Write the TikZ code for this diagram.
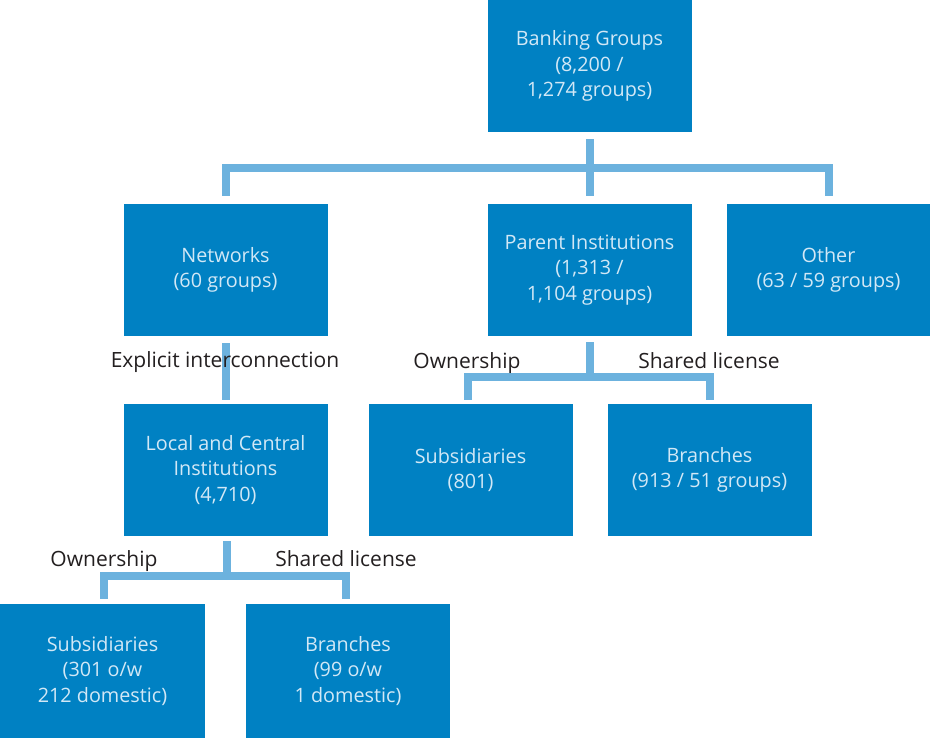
\documentclass[tikz,border=0pt]{standalone}
\usepackage{fontspec}
\setmainfont{Open Sans}
\definecolor{boxblue}{HTML}{0081C3}
\definecolor{linkblue}{HTML}{6CB2DE}
\definecolor{boxtext}{HTML}{D2E8F6}
\definecolor{labelgray}{HTML}{231F20}
\begin{document}
\begin{tikzpicture}[x=1pt,y=-1pt,
  box/.style={fill=boxblue, draw=none, minimum width=204pt, minimum height=132pt, inner sep=0pt, align=center, text=boxtext, font=\fontsize{19.8}{25.5}\selectfont},
  conn/.style={draw=linkblue, line width=8pt},
  lbl/.style={text=labelgray, font=\fontsize{21}{24}\selectfont, inner sep=0pt, anchor=base}]
\useasboundingbox (0,0) rectangle (930,738);
% boxes
\node[box] (bg) at (589.5,66) {Banking Groups\\(8,200 /\\1,274 groups)};
\node[box] (net) at (225.5,270) {Networks\\(60 groups)};
\node[box] (par) at (589.5,270) {Parent Institutions\\(1,313 /\\1,104 groups)};
\node[box] (oth) at (828.5,270) {Other\\(63 / 59 groups)};
\node[box] (loc) at (225.5,470) {Local and Central\\Institutions\\(4,710)};
\node[box] (sub1) at (470.5,470) {Subsidiaries\\(801)};
\node[box] (br1) at (709.5,470) {Branches\\(913 / 51 groups)};
\node[box, minimum height=134pt, minimum width=205pt] (sub2) at (102.5,671) {Subsidiaries\\(301 o/w\\212 domestic)};
\node[box, minimum height=134pt] (br2) at (348,671) {Branches\\(99 o/w\\1 domestic)};
% connectors
\coordinate (j1) at (589.5,168);
\draw[conn] ([yshift=-7pt]bg.south) -- ([yshift=8pt]par.north);
\draw[conn] ([yshift=8pt]net.north) |- (j1) -| ([yshift=8pt]oth.north);
\draw[conn] ([yshift=-7pt]net.south) -- ([yshift=4pt]loc.north);
\coordinate (j2) at (589.5,377);
\draw[conn] ([yshift=-6pt]par.south) -- (j2);
\draw[conn] ([xshift=-2.5pt,yshift=4pt]sub1.north) |- (j2) -| ([yshift=4pt]br1.north);
\coordinate (j3) at (227,576);
\draw[conn] ([xshift=1.5pt,yshift=-5pt]loc.south) -- (j3);
\draw[conn] ([xshift=1.5pt,yshift=5pt]sub2.north) |- (j3) -| ([xshift=-2pt,yshift=5pt]br2.north);
% labels
\node[lbl] (lexp) at (225,367) {Explicit interconnection};
\node[lbl] (own1) at (467,368) {Ownership};
\node[lbl] (sh1) at (709,368) {Shared license};
\node[lbl] (own2) at (104,566) {Ownership};
\node[lbl] (sh2) at (346,566) {Shared license};
\end{tikzpicture}
\end{document}
